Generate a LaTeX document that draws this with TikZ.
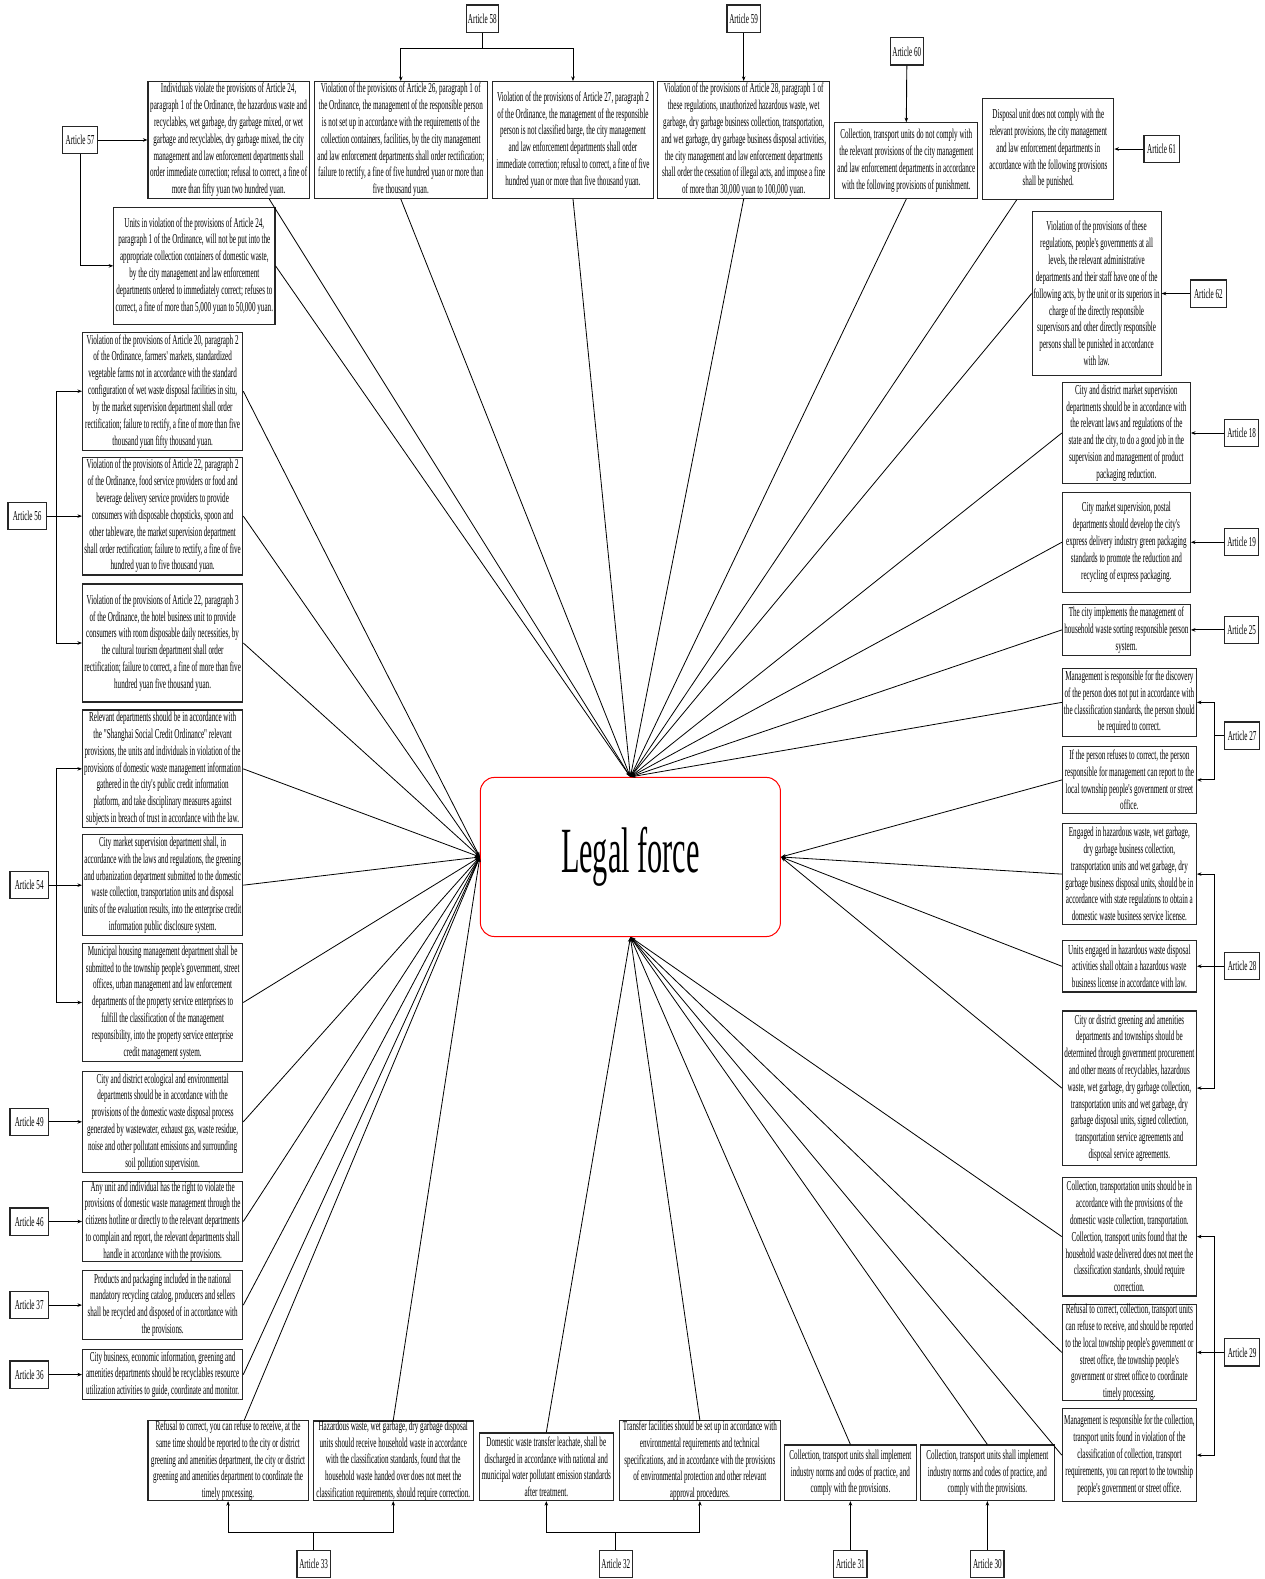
\documentclass[tikz,border=0pt]{standalone}
\usepackage{fontspec}
\setmainfont{Liberation Serif}
\newfontfamily\condfont{Liberation Serif}[FakeStretch=0.525]
\newfontfamily\titlefont{Liberation Serif}[FakeStretch=0.47]
\usetikzlibrary{arrows.meta,calc}

\tikzset{
  txt/.style={draw=black!85, line width=1.2pt, fill=white, inner sep=0pt, align=center,
    font=\condfont\fontsize{13.5}{16.7}\selectfont},
  art/.style={txt, minimum height=27pt},
  conn/.style={draw=black, line width=0.9pt, -{Stealth[length=4.5pt,width=3.5pt]}},
  ray/.style={draw=black, line width=0.8pt, -{Stealth[length=5pt,width=3.5pt]}},
  lfbox/.style={draw=red, line width=1pt, rounded corners=14pt, fill=white,
    minimum width=298pt, minimum height=158pt, inner sep=0pt,
    font=\titlefont\fontsize{64}{70}\selectfont}
}

\begin{document}
\begin{tikzpicture}[x=1pt,y=-1pt]
\useasboundingbox (0,0) rectangle (1256,1568);
\fill[white] (0,0) rectangle (1256,1568);

% central node
\node[lfbox] (lf) at (626,851) {Legal force};

% ---------- top row ----------
\node[art, minimum width=32pt] (a58) at (479,18.5) {Article 58};
\node[art, minimum width=33pt] (a59) at (738.5,18.5) {Article 59};
\node[art, minimum width=33pt] (a60) at (900.5,51) {Article 60};
\node[art, minimum width=35pt] (a57) at (79.5,139) {Article 57};
\node[art, minimum width=35pt] (a61) at (1153.5,148) {Article 61};
\node[art, minimum width=36pt] (a62) at (1200,291.5) {Article 62};

\node[txt, minimum width=160pt, minimum height=116pt] (b57a) at (227,139) {Individuals violate the provisions of Article 24,\\
paragraph 1 of the Ordinance, the hazardous waste and\\
recyclables, wet garbage, dry garbage mixed, or wet\\
garbage and recyclables, dry garbage mixed, the city\\
management and law enforcement departments shall\\
order immediate correction; refusal to correct, a fine of\\
more than fifty yuan two hundred yuan.};

\node[txt, minimum width=172pt, minimum height=116pt] (b58a) at (398,139) {Violation of the provisions of Article 26, paragraph 1 of\\
the Ordinance, the management of the responsible person\\
is not set up in accordance with the requirements of the\\
collection containers, facilities, by the city management\\
and law enforcement departments shall order rectification;\\
failure to rectify, a fine of five hundred yuan or more than\\
five thousand yuan.};

\node[txt, minimum width=160pt, minimum height=116pt] (b58b) at (569,139) {Violation of the provisions of Article 27, paragraph 2\\
of the Ordinance, the management of the responsible\\
person is not classified barge, the city management\\
and law enforcement departments shall order\\
immediate correction; refusal to correct, a fine of five\\
hundred yuan or more than five thousand yuan.};

\node[txt, minimum width=171pt, minimum height=116pt] (b59) at (738.5,139) {Violation of the provisions of Article 28, paragraph 1 of\\
these regulations, unauthorized hazardous waste, wet\\
garbage, dry garbage business collection, transportation,\\
and wet garbage, dry garbage business disposal activities,\\
the city management and law enforcement departments\\
shall order the cessation of illegal acts, and impose a fine\\
of more than 30,000 yuan to 100,000 yuan.};

\node[txt, minimum width=142pt, minimum height=75pt] (b60) at (900,159.5) {Collection, transport units do not comply with\\
the relevant provisions of the city management\\
and law enforcement departments in accordance\\
with the following provisions of punishment.};

\node[txt, minimum width=130pt, minimum height=100pt] (b61) at (1041,148) {Disposal unit does not comply with the\\
relevant provisions, the city management\\
and law enforcement departments in\\
accordance with the following provisions\\
shall be punished.};

\node[txt, minimum width=160pt, minimum height=116pt] (b57b) at (193,264) {Units in violation of the provisions of Article 24,\\
paragraph 1 of the Ordinance, will not be put into the\\
appropriate collection containers of domestic waste,\\
by the city management and law enforcement\\
departments ordered to immediately correct; refuses to\\
correct, a fine of more than 5,000 yuan to 50,000 yuan.};

\node[txt, minimum width=128pt, minimum height=163pt] (b62) at (1089,291.5) {Violation of the provisions of these\\
regulations, people's governments at all\\
levels, the relevant administrative\\
departments and their staff have one of the\\
following acts, by the unit or its superiors in\\
charge of the directly responsible\\
supervisors and other directly responsible\\
persons shall be punished in accordance\\
with law.};

% ---------- left column ----------
\node[art, minimum width=38pt] (a56) at (27,512.5) {Article 56};
\node[art, minimum width=38pt] (a54) at (29,879) {Article 54};
\node[art, minimum width=38pt] (a49) at (29,1114) {Article 49};
\node[art, minimum width=38pt] (a46) at (29,1213) {Article 46};
\node[art, minimum width=38pt] (a37) at (29,1296) {Article 37};
\node[art, minimum width=38pt] (a36) at (29,1365) {Article 36};

\node[txt, minimum width=159pt, minimum height=117pt] (b56a) at (161.5,388.5) {Violation of the provisions of Article 20, paragraph 2\\
of the Ordinance, farmers' markets, standardized\\
vegetable farms not in accordance with the standard\\
configuration of wet waste disposal facilities in situ,\\
by the market supervision department shall order\\
rectification; failure to rectify, a fine of more than five\\
thousand yuan fifty thousand yuan.};

\node[txt, minimum width=159pt, minimum height=117pt] (b56b) at (161.5,512.5) {Violation of the provisions of Article 22, paragraph 2\\
of the Ordinance, food service providers or food and\\
beverage delivery service providers to provide\\
consumers with disposable chopsticks, spoon and\\
other tableware, the market supervision department\\
shall order rectification; failure to rectify, a fine of five\\
hundred yuan to five thousand yuan.};

\node[txt, minimum width=159pt, minimum height=117pt] (b56c) at (161.5,638.5) {Violation of the provisions of Article 22, paragraph 3\\
of the Ordinance, the hotel business unit to provide\\
consumers with room disposable daily necessities, by\\
the cultural tourism department shall order\\
rectification; failure to correct, a fine of more than five\\
hundred yuan five thousand yuan.};

\node[txt, minimum width=159pt, minimum height=117pt] (b54a) at (161.5,763.5) {Relevant departments should be in accordance with\\
the "Shanghai Social Credit Ordinance" relevant\\
provisions, the units and individuals in violation of the\\
provisions of domestic waste management information\\
gathered in the city's public credit information\\
platform, and take disciplinary measures against\\
subjects in breach of trust in accordance with the law.};

\node[txt, minimum width=159pt, minimum height=100pt] (b54b) at (161.5,879) {City market supervision department shall, in\\
accordance with the laws and regulations, the greening\\
and urbanization department submitted to the domestic\\
waste collection, transportation units and disposal\\
units of the evaluation results, into the enterprise credit\\
information public disclosure system.};

\node[txt, minimum width=159pt, minimum height=117pt] (b54c) at (161.5,995.5) {Municipal housing management department shall be\\
submitted to the township people's government, street\\
offices, urban management and law enforcement\\
departments of the property service enterprises to\\
fulfill the classification of the management\\
responsibility, into the property service enterprise\\
credit management system.};

\node[txt, minimum width=159pt, minimum height=100pt] (b49) at (161.5,1114) {City and district ecological and environmental\\
departments should be in accordance with the\\
provisions of the domestic waste disposal process\\
generated by wastewater, exhaust gas, waste residue,\\
noise and other pollutant emissions and surrounding\\
soil pollution supervision.};

\node[txt, minimum width=159pt, minimum height=80pt] (b46) at (161.5,1213) {Any unit and individual has the right to violate the\\
provisions of domestic waste management through the\\
citizens hotline or directly to the relevant departments\\
to complain and report, the relevant departments shall\\
handle in accordance with the provisions.};

\node[txt, minimum width=159pt, minimum height=68pt] (b37) at (161.5,1296) {Products and packaging included in the national\\
mandatory recycling catalog, producers and sellers\\
shall be recycled and disposed of in accordance with\\
the provisions.};

\node[txt, minimum width=159pt, minimum height=50pt] (b36) at (161.5,1365) {City business, economic information, greening and\\
amenities departments should be recyclables resource\\
utilization activities to guide, coordinate and monitor.};

% ---------- bottom row ----------
\node[art, minimum width=33pt] (a33) at (311.5,1553) {Article 33};
\node[art, minimum width=33pt] (a32) at (611.5,1553) {Article 32};
\node[art, minimum width=33pt] (a31) at (844.5,1553) {Article 31};
\node[art, minimum width=33pt] (a30) at (980.5,1553) {Article 30};

\node[txt, minimum width=159pt, minimum height=79pt] (b33a) at (226.5,1450.5) {Refusal to correct, you can refuse to receive, at the\\
same time should be reported to the city or district\\
greening and amenities department, the city or district\\
greening and amenities department to coordinate the\\
timely processing.};

\node[txt, minimum width=159pt, minimum height=79pt] (b33b) at (390.5,1450.5) {Hazardous waste, wet garbage, dry garbage disposal\\
units should receive household waste in accordance\\
with the classification standards, found that the\\
household waste handed over does not meet the\\
classification requirements, should require correction.};

\node[txt, minimum width=133pt, minimum height=67pt] (b32a) at (542.5,1456.5) {Domestic waste transfer leachate, shall be\\
discharged in accordance with national and\\
municipal water pollutant emission standards\\
after treatment.};

\node[txt, minimum width=160pt, minimum height=79pt] (b32b) at (695,1450.5) {Transfer facilities should be set up in accordance with\\
environmental requirements and technical\\
specifications, and in accordance with the provisions\\
of environmental protection and other relevant\\
approval procedures.};

\node[txt, minimum width=131pt, minimum height=55pt] (b31) at (844.5,1462.5) {Collection, transport units shall implement\\
industry norms and codes of practice, and\\
comply with the provisions.};

\node[txt, minimum width=133pt, minimum height=55pt] (b30) at (980.5,1462.5) {Collection, transport units shall implement\\
industry norms and codes of practice, and\\
comply with the provisions.};

% ---------- right column ----------
\node[art, minimum width=34pt] (a18) at (1233,430) {Article 18};
\node[art, minimum width=34pt] (a19) at (1233,538.5) {Article 19};
\node[art, minimum width=34pt] (a25) at (1233,625.5) {Article 25};
\node[art, minimum width=35pt] (a27) at (1233.5,730.5) {Article 27};
\node[art, minimum width=35pt] (a28) at (1233.5,959.5) {Article 28};
\node[art, minimum width=35pt] (a29) at (1233.5,1343) {Article 29};

\node[txt, minimum width=127pt, minimum height=100pt] (b18) at (1118.5,430) {City and district market supervision\\
departments should be in accordance with\\
the relevant laws and regulations of the\\
state and the city, to do a good job in the\\
supervision and management of product\\
packaging reduction.};

\node[txt, minimum width=127pt, minimum height=99pt] (b19) at (1118.5,538.5) {City market supervision, postal\\
departments should develop the city's\\
express delivery industry green packaging\\
standards to promote the reduction and\\
recycling of express packaging.};

\node[txt, minimum width=127pt, minimum height=51pt] (b25) at (1118.5,625.5) {The city implements the management of\\
household waste sorting responsible person\\
system.};

\node[txt, minimum width=133pt, minimum height=67pt] (b27a) at (1121.5,697.5) {Management is responsible for the discovery\\
of the person does not put in accordance with\\
the classification standards, the person should\\
be required to correct.};

\node[txt, minimum width=133pt, minimum height=67pt] (b27b) at (1121.5,774.5) {If the person refuses to correct, the person\\
responsible for management can report to the\\
local township people's government or street\\
office.};

\node[txt, minimum width=133pt, minimum height=100pt] (b28a) at (1121.5,868) {Engaged in hazardous waste, wet garbage,\\
dry garbage business collection,\\
transportation units and wet garbage, dry\\
garbage business disposal units, should be in\\
accordance with state regulations to obtain a\\
domestic waste business service license.};

\node[txt, minimum width=133pt, minimum height=51pt] (b28b) at (1121.5,959.5) {Units engaged in hazardous waste disposal\\
activities shall obtain a hazardous waste\\
business license in accordance with law.};

\node[txt, minimum width=133pt, minimum height=153pt] (b28c) at (1121.5,1080.5) {City or district greening and amenities\\
departments and townships should be\\
determined through government procurement\\
and other means of recyclables, hazardous\\
waste, wet garbage, dry garbage collection,\\
transportation units and wet garbage, dry\\
garbage disposal units, signed collection,\\
transportation service agreements and\\
disposal service agreements.};

\node[txt, minimum width=133pt, minimum height=118pt] (b29a) at (1121.5,1228) {Collection, transportation units should be in\\
accordance with the provisions of the\\
domestic waste collection, transportation.\\
Collection, transport units found that the\\
household waste delivered does not meet the\\
classification standards, should require\\
correction.};

\node[txt, minimum width=133pt, minimum height=94pt] (b29b) at (1121.5,1343) {Refusal to correct, collection, transport units\\
can refuse to receive, and should be reported\\
to the local township people's government or\\
street office, the township people's\\
government or street office to coordinate\\
timely processing.};

\node[txt, minimum width=133pt, minimum height=92pt] (b29c) at (1121.5,1445) {Management is responsible for the collection,\\
transport units found in violation of the\\
classification of collection, transport\\
requirements, you can report to the township\\
people's government or street office.};

% ---------- article connectors ----------
\draw[conn] (a58.south) -- ++(0,16) -| (b58a.north);
\draw[conn] (a58.south) -- ++(0,16) -| (b58b.north);
\draw[conn] (a59.south) -- (b59.north);
\draw[conn] (a60.south) -- (b60.north);
\draw[conn] (a61.west) -- (b61.east);
\draw[conn] (a62.west) -- (b62.east);
\draw[conn] (a57.east) -- (b57a.west);
\draw[conn] (a57.south) |- (b57b.west);

\draw[conn] (a56.east) -- (b56b.west);
\draw[conn] (a56.east) -- ++(9,0) |- (b56a.west);
\draw[conn] (a56.east) -- ++(9,0) |- (b56c.west);
\draw[conn] (a54.east) -- (b54b.west);
\draw[conn] (a54.east) -- ++(7,0) |- (b54a.west);
\draw[conn] (a54.east) -- ++(7,0) |- (b54c.west);
\draw[conn] (a49.east) -- (b49.west);
\draw[conn] (a46.east) -- (b46.west);
\draw[conn] (a37.east) -- (b37.west);
\draw[conn] (a36.east) -- (b36.west);

\draw[conn] (a33.north) -- ++(0,-17) -| (b33a.south);
\draw[conn] (a33.north) -- ++(0,-17) -| (b33b.south);
\draw[conn] (a32.north) -- ++(0,-17) -| (b32a.south);
\draw[conn] (a32.north) -- ++(0,-17) -| (b32b.south);
\draw[conn] (a31.north) -- (b31.south);
\draw[conn] (a30.north) -- (b30.south);

\draw[conn] (a18.west) -- (b18.east);
\draw[conn] (a19.west) -- (b19.east);
\draw[conn] (a25.west) -- (b25.east);
\draw[conn] (a27.west) -- ++(-9,0) |- (b27a.east);
\draw[conn] (a27.west) -- ++(-9,0) |- (b27b.east);
\draw[conn] (a28.west) -- (b28b.east);
\draw[conn] (a28.west) -- ++(-9,0) |- (b28a.east);
\draw[conn] (a28.west) -- ++(-9,0) |- (b28c.east);
\draw[conn] (a29.west) -- (b29b.east);
\draw[conn] (a29.west) -- ++(-9,0) |- (b29a.east);
\draw[conn] (a29.west) -- ++(-9,0) |- (b29c.east);

% ---------- rays into the central node ----------
% top
\draw[ray] ($(b57a.south)!0.5!(b57a.south east)$) -- (lf.north);
\draw[ray] (b57b.east) -- (lf.north);
\draw[ray] (b58a.south) -- (lf.north);
\draw[ray] (b58b.south) -- (lf.north);
\draw[ray] (b59.south) -- (lf.north);
\draw[ray] (b60.south) -- (lf.north);
\draw[ray] ($(b61.south west)!0.26!(b61.south east)$) -- (lf.north);
\draw[ray] (b62.west) -- (lf.north);
\draw[ray] (b18.west) -- (lf.north);
\draw[ray] (b19.west) -- (lf.north);
\draw[ray] (b25.west) -- (lf.north);
\draw[ray] (b27a.west) -- (lf.north);
% left
\foreach \n in {b56a,b56b,b56c,b54a,b54b,b54c,b49,b46,b37,b36}
  \draw[ray] (\n.east) -- (lf.west);
\draw[ray] ($(b33a.north west)!0.6!(b33a.north east)$) -- (lf.west);
\draw[ray] (b33b.north) -- (lf.west);
% right
\foreach \n in {b27b,b28a,b28b,b28c}
  \draw[ray] (\n.west) -- (lf.east);
% bottom
\foreach \n in {b29a,b29b,b29c}
  \draw[ray] (\n.west) -- (lf.south);
\foreach \n in {b30,b31,b32a,b32b}
  \draw[ray] (\n.north) -- (lf.south);
\end{tikzpicture}
\end{document}
